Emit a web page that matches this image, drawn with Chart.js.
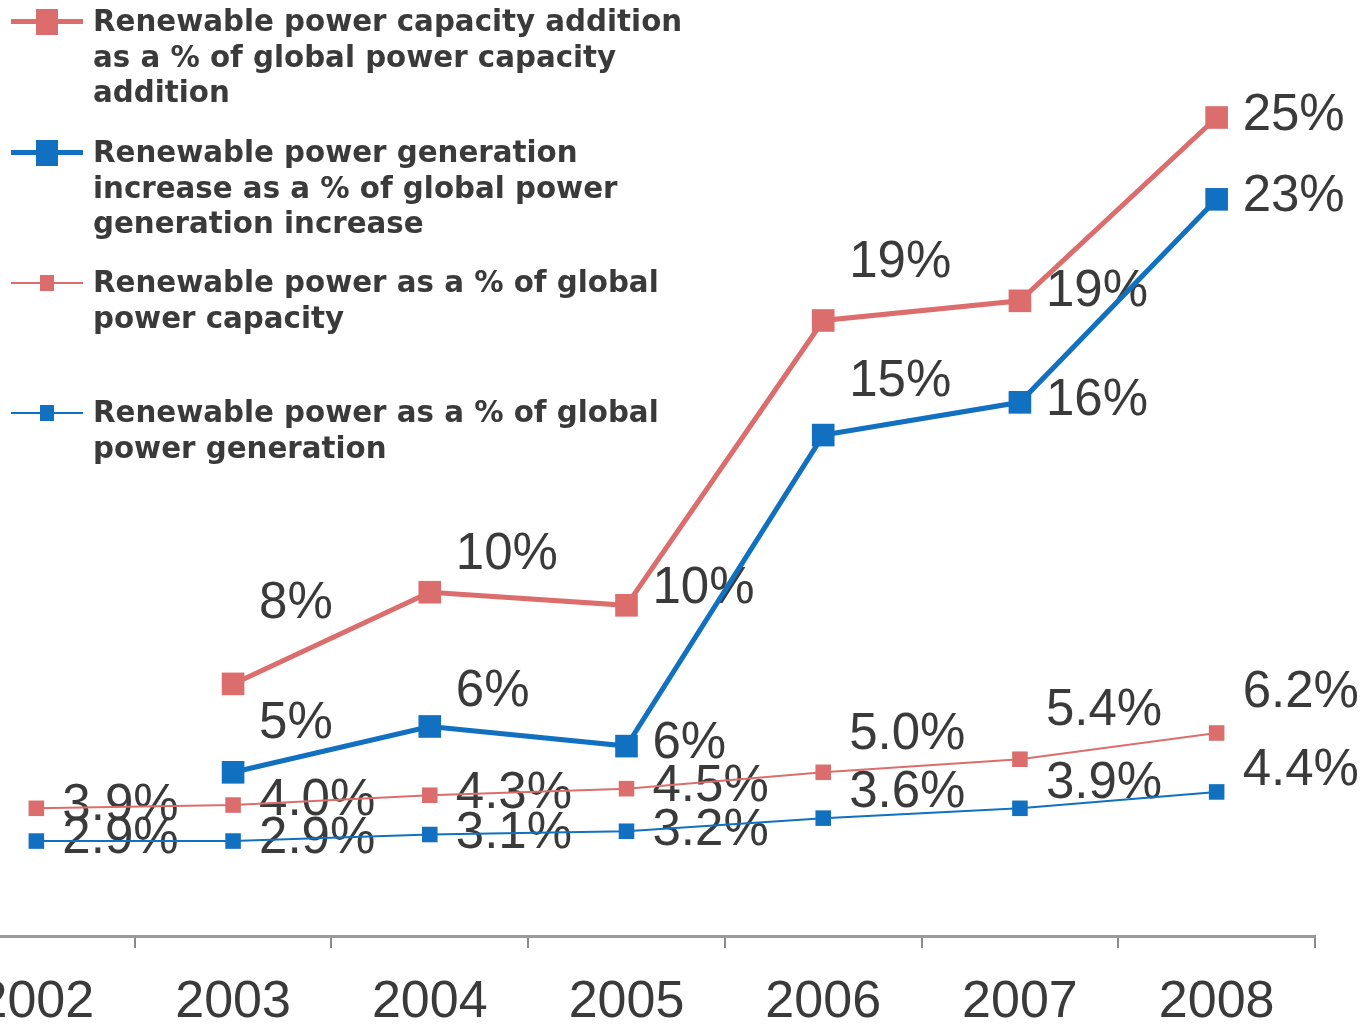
<!DOCTYPE html>
<html>
<head>
<meta charset="utf-8">
<script src="https://cdn.jsdelivr.net/npm/chart.js@4.4.1/dist/chart.umd.min.js"></script>
<style>
  html, body { margin: 0; padding: 0; background: #fff; overflow: hidden; }
  body { width: 1361px; height: 1025px; position: relative; }
  #wrap { position: absolute; left: -78px; top: 0; width: 1439px; height: 1058px; }
  #legend { position: absolute; left: 0; top: 0; font-family: "DejaVu Sans", sans-serif; font-weight: bold; font-size: 29.3px; color: #3a3a3a; }
  .item { position: absolute; left: 0; line-height: 35.5px; }
  .item .txt { position: absolute; left: 93px; top: 0; white-space: pre; }
  .item .ln { position: absolute; left: 11px; width: 72px; }
  .item .sq { position: absolute; }
</style>
</head>
<body>
<div id="wrap"><canvas id="chart"></canvas></div>
<div id="legend"></div>
<script>
// --- data ---
const years = ['2002', '2003', '2004', '2005', '2006', '2007', '2008'];

const capAddition = [null, 7.7, 10.5, 10.1, 18.8, 19.4, 25.0];
const capAdditionLabels = ['', '8%', '10%', '10%', '19%', '19%', '25%'];

const genIncrease = [null, 5.0, 6.4, 5.8, 15.3, 16.3, 22.5];
const genIncreaseLabels = ['', '5%', '6%', '6%', '15%', '16%', '23%'];

const capShare = [3.9, 4.0, 4.3, 4.5, 5.0, 5.4, 6.2];
const capShareLabels = ['3.9%', '4.0%', '4.3%', '4.5%', '5.0%', '5.4%', '6.2%'];

const genShare = [2.9, 2.9, 3.1, 3.2, 3.6, 3.9, 4.4];
const genShareLabels = ['2.9%', '2.9%', '3.1%', '3.2%', '3.6%', '3.9%', '4.4%'];

const seriesNames = [
  'Renewable power capacity addition\nas a % of global power capacity\naddition',
  'Renewable power generation\nincrease as a % of global power\ngeneration increase',
  'Renewable power as a % of global\npower capacity',
  'Renewable power as a % of global\npower generation'
];

// --- style ---
const RED = '#dc6d6d';
const BLUE = '#1170c0';
const TEXT = '#3a3a3a';
// vertical offsets of the value labels relative to each point
const labelDy = [
  [0, -80, -37, -16, -58, -9, -2],
  [0, -48, -35, -2, -53, -1, -2],
  [-2, -4, -1, -2, -37, -48, -40],
  [-2, -2, -1, 0, -25, -24, -21]
];
const legendTops = [4, 135, 265, 395];

const valueLabels = {
  id: 'valueLabels',
  beforeDatasetsDraw(chart) {
    const ctx = chart.ctx;
    ctx.save();
    ctx.font = '51px "Liberation Sans", Arial, sans-serif';
    ctx.fillStyle = TEXT;
    ctx.textAlign = 'left';
    ctx.textBaseline = 'middle';
    chart.data.datasets.forEach((ds, di) => {
      const meta = chart.getDatasetMeta(di);
      meta.data.forEach((pt, i) => {
        const txt = ds.valueText[i];
        if (!txt || ds.data[i] == null) return;
        ctx.fillText(txt, pt.x + 26, pt.y + labelDy[di][i]);
      });
    });
    ctx.restore();
  }
};

const chart = new Chart(document.getElementById('chart').getContext('2d'), {
  type: 'line',
  data: {
    labels: years,
    datasets: [
      { label: seriesNames[0], data: capAddition, valueText: capAdditionLabels, borderColor: RED, backgroundColor: RED,
        borderWidth: 5, pointStyle: 'rect', pointRadius: 16, pointBorderWidth: 0, thick: true, order: 1 },
      { label: seriesNames[1], data: genIncrease, valueText: genIncreaseLabels, borderColor: BLUE, backgroundColor: BLUE,
        borderWidth: 5, pointStyle: 'rect', pointRadius: 16, pointBorderWidth: 0, thick: true, order: 0 },
      { label: seriesNames[2], data: capShare, valueText: capShareLabels, borderColor: RED, backgroundColor: RED,
        borderWidth: 2, pointStyle: 'rect', pointRadius: 11, pointBorderWidth: 0, thick: false, order: 3 },
      { label: seriesNames[3], data: genShare, valueText: genShareLabels, borderColor: BLUE, backgroundColor: BLUE,
        borderWidth: 2, pointStyle: 'rect', pointRadius: 11, pointBorderWidth: 0, thick: false, order: 2 }
    ]
  },
  options: {
    responsive: true,
    maintainAspectRatio: false,
    animation: false,
    layout: { padding: { left: 0, right: 46, top: 0, bottom: 0 } },
    plugins: { legend: { display: false }, tooltip: { enabled: false } },
    elements: { line: { tension: 0 } },
    scales: {
      x: {
        offset: true,
        border: { display: true, color: '#9a9a9a', width: 3 },
        grid: { offset: true, drawOnChartArea: false, drawTicks: true, tickLength: 12, color: '#8a8a8a', lineWidth: 2 },
        ticks: { color: TEXT, padding: 29, maxRotation: 0, font: { family: '"Liberation Sans", Arial, sans-serif', size: 52, lineHeight: 1 } }
      },
      y: { display: false, min: 0, max: 28.1 }
    }
  },
  plugins: [valueLabels]
});

// HTML legend built from the datasets
const legend = document.getElementById('legend');
chart.data.datasets.forEach((ds, i) => {
  const item = document.createElement('div');
  item.className = 'item';
  item.style.top = legendTops[i] + 'px';
  const lw = ds.thick ? 5 : 2;
  const sw = ds.thick ? 22 : 14;
  const sh = ds.thick ? 26 : 16;
  const cy = 17.75;
  item.innerHTML =
    '<div class="ln" style="top:' + (cy - lw / 2) + 'px;height:' + lw + 'px;background:' + ds.borderColor + '"></div>' +
    '<div class="sq" style="left:' + (47 - sw / 2) + 'px;top:' + (cy - sh / 2) + 'px;width:' + sw + 'px;height:' + sh + 'px;background:' + ds.backgroundColor + '"></div>' +
    '<div class="txt"></div>';
  item.querySelector('.txt').textContent = ds.label;
  legend.appendChild(item);
});
</script>
</body>
</html>
